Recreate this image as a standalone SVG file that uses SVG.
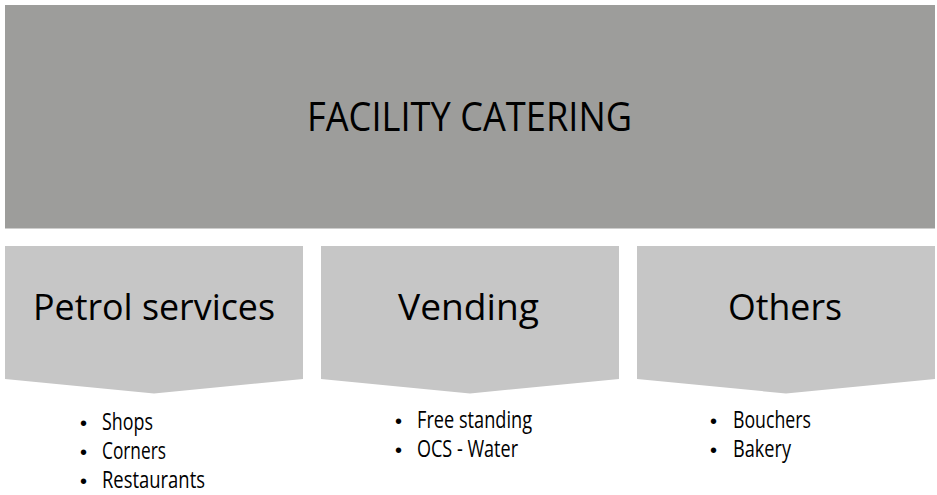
<svg xmlns="http://www.w3.org/2000/svg" width="937" height="495" viewBox="0 0 937 495">
<style>
.top{fill:#9d9d9b}
.chev{fill:#c6c6c6}
.t{font-family:"Open Sans","Liberation Sans",sans-serif;fill:#000}
.title{font-size:40px}
.lab{font-size:36px}
.li{font-size:23px}
.b{font-family:"Liberation Sans",sans-serif;font-size:20px;fill:#000}
</style>
<rect width="937" height="495" fill="#fff"/>
<g id="facility-catering">
<rect class="top" x="5" y="5" width="930" height="223.5"/>
<text class="t title" x="307" y="131" textLength="325" lengthAdjust="spacingAndGlyphs">FACILITY CATERING</text>
</g>
<g id="connectors"></g>
<g id="petrol-services">
<polygon class="chev" points="5,246 303,246 303,379 154,393.5 5,379"/>
<text class="t lab" x="33" y="320" textLength="242" lengthAdjust="spacingAndGlyphs">Petrol services</text>
</g>
<g id="vending">
<polygon class="chev" points="321,246 619,246 619,379 470,393.5 321,379"/>
<text class="t lab" x="398" y="320" textLength="141" lengthAdjust="spacingAndGlyphs">Vending</text>
</g>
<g id="others">
<polygon class="chev" points="637,246 935,246 935,379 786,393.5 637,379"/>
<text class="t lab" x="728" y="320" textLength="114" lengthAdjust="spacingAndGlyphs">Others</text>
</g>
<g id="petrol-list">
<text class="b" x="80" y="430">•</text>
<text class="t li" x="102" y="430" textLength="51" lengthAdjust="spacingAndGlyphs">Shops</text>
<text class="b" x="80" y="459">•</text>
<text class="t li" x="102" y="459" textLength="64" lengthAdjust="spacingAndGlyphs">Corners</text>
<text class="b" x="80" y="488">•</text>
<text class="t li" x="102" y="488" textLength="103" lengthAdjust="spacingAndGlyphs">Restaurants</text>
</g>
<g id="vending-list">
<text class="b" x="395" y="428">•</text>
<text class="t li" x="417" y="428" textLength="115" lengthAdjust="spacingAndGlyphs">Free standing</text>
<text class="b" x="395" y="457">•</text>
<text class="t li" x="417" y="457" textLength="101" lengthAdjust="spacingAndGlyphs">OCS - Water</text>
</g>
<g id="others-list">
<text class="b" x="710" y="428">•</text>
<text class="t li" x="733" y="428" textLength="78" lengthAdjust="spacingAndGlyphs">Bouchers</text>
<text class="b" x="710" y="457">•</text>
<text class="t li" x="733" y="457" textLength="58" lengthAdjust="spacingAndGlyphs">Bakery</text>
</g>
</svg>
